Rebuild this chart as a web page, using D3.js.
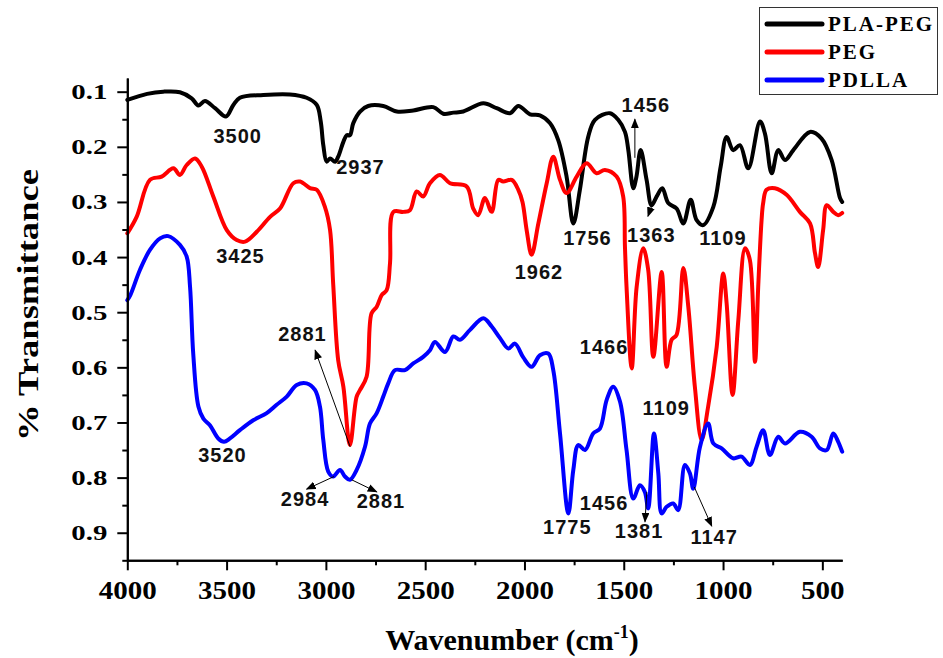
<!DOCTYPE html>
<html lang="en">
<head>
    <meta charset="UTF-8">
    <script src="https://d3js.org/d3.v7.min.js"></script>
    <style>
        body { margin: 0; background: #fff; }
        svg { display: block; }
    </style>
</head>
<body>
<div id="chart"></div>

<script>
    // spectra: [wavenumber, transmittance]
    var plaPeg = [
        [4000, 0.115], [3900, 0.104], [3819, 0.100], [3735, 0.101], [3676, 0.112], [3642, 0.125],
        [3609, 0.117], [3558, 0.130], [3503, 0.145], [3466, 0.124], [3433, 0.111], [3315, 0.106],
        [3181, 0.105], [3097, 0.111], [3046, 0.124], [3026, 0.154], [3013, 0.197], [2996, 0.227],
        [2979, 0.221], [2954, 0.227], [2938, 0.218], [2912, 0.191], [2895, 0.179], [2879, 0.179],
        [2862, 0.157], [2828, 0.136], [2787, 0.126], [2711, 0.126], [2643, 0.136], [2560, 0.134],
        [2459, 0.128], [2409, 0.140], [2358, 0.138], [2308, 0.136], [2207, 0.121], [2140, 0.130],
        [2073, 0.139], [2031, 0.126], [1972, 0.141], [1922, 0.143], [1872, 0.157], [1830, 0.188],
        [1788, 0.254], [1754, 0.339], [1721, 0.278], [1679, 0.182], [1645, 0.151], [1570, 0.139],
        [1528, 0.151], [1494, 0.173], [1477, 0.206], [1452, 0.275], [1436, 0.254], [1415, 0.206],
        [1385, 0.260], [1360, 0.306], [1334, 0.290], [1306, 0.275], [1276, 0.302], [1234, 0.312],
        [1200, 0.339], [1163, 0.296], [1133, 0.333], [1100, 0.342], [1049, 0.309], [1012, 0.236],
        [982, 0.182], [949, 0.206], [915, 0.197], [873, 0.239], [814, 0.154], [789, 0.176],
        [755, 0.248], [722, 0.206], [688, 0.224], [646, 0.206], [562, 0.173], [504, 0.185],
        [453, 0.224], [411, 0.293], [400, 0.300]
    ];

    var peg = [
        [4000, 0.357], [3953, 0.327], [3886, 0.260], [3827, 0.254], [3768, 0.239], [3735, 0.251],
        [3701, 0.233], [3659, 0.221], [3625, 0.236], [3567, 0.290], [3499, 0.351], [3449, 0.369],
        [3407, 0.372], [3348, 0.354], [3281, 0.327], [3231, 0.312], [3164, 0.266], [3130, 0.263],
        [3080, 0.275], [3046, 0.278], [3005, 0.309], [2979, 0.351], [2963, 0.450], [2938, 0.587],
        [2912, 0.635], [2879, 0.741], [2845, 0.653], [2828, 0.641], [2795, 0.617], [2770, 0.502],
        [2744, 0.490], [2719, 0.469], [2694, 0.460], [2677, 0.411], [2660, 0.318], [2610, 0.318],
        [2577, 0.315], [2543, 0.281], [2510, 0.290], [2476, 0.266], [2426, 0.251], [2375, 0.266],
        [2291, 0.272], [2258, 0.312], [2233, 0.324], [2199, 0.293], [2165, 0.318], [2132, 0.260],
        [2107, 0.263], [2064, 0.260], [2031, 0.278], [2010, 0.300], [1989, 0.351], [1964, 0.396],
        [1930, 0.339], [1888, 0.266], [1855, 0.218], [1821, 0.260], [1788, 0.284], [1737, 0.254],
        [1687, 0.230], [1637, 0.248], [1595, 0.242], [1536, 0.254], [1503, 0.290], [1494, 0.381],
        [1486, 0.454], [1460, 0.602], [1435, 0.454], [1402, 0.384], [1377, 0.423], [1351, 0.581],
        [1309, 0.427], [1284, 0.599], [1259, 0.550], [1234, 0.541], [1200, 0.420], [1175, 0.490],
        [1142, 0.635], [1108, 0.732], [1075, 0.671], [1032, 0.563], [999, 0.430], [982, 0.484],
        [952, 0.650], [923, 0.514], [889, 0.384], [865, 0.405], [839, 0.590], [823, 0.454],
        [806, 0.333], [798, 0.302], [781, 0.278], [739, 0.275], [680, 0.287], [613, 0.318],
        [562, 0.339], [537, 0.393], [521, 0.418], [496, 0.351], [478, 0.306], [445, 0.318],
        [420, 0.324], [400, 0.320]
    ];

    var pdlla = [
        [4000, 0.478], [3986, 0.470], [3936, 0.423], [3886, 0.387], [3835, 0.366], [3794, 0.362],
        [3735, 0.378], [3701, 0.399], [3684, 0.454], [3668, 0.575], [3642, 0.671], [3617, 0.693],
        [3584, 0.705], [3542, 0.729], [3513, 0.735], [3483, 0.729], [3433, 0.714], [3366, 0.696],
        [3298, 0.683], [3248, 0.668], [3197, 0.653], [3147, 0.632], [3097, 0.629], [3055, 0.641],
        [3030, 0.671], [3013, 0.732], [2988, 0.789], [2963, 0.798], [2929, 0.786], [2904, 0.798],
        [2879, 0.804], [2845, 0.786], [2803, 0.744], [2778, 0.702], [2744, 0.683], [2711, 0.653],
        [2686, 0.629], [2652, 0.605], [2602, 0.605], [2560, 0.593], [2510, 0.581], [2476, 0.569],
        [2451, 0.554], [2400, 0.572], [2358, 0.544], [2325, 0.550], [2274, 0.532], [2207, 0.511],
        [2165, 0.526], [2123, 0.547], [2081, 0.566], [2048, 0.557], [2006, 0.582], [1964, 0.599],
        [1922, 0.578], [1880, 0.575], [1855, 0.605], [1821, 0.720], [1779, 0.865], [1754, 0.786],
        [1729, 0.741], [1695, 0.750], [1654, 0.720], [1620, 0.711], [1586, 0.659], [1553, 0.635],
        [1519, 0.662], [1486, 0.750], [1452, 0.838], [1419, 0.814], [1394, 0.826], [1377, 0.856],
        [1348, 0.720], [1326, 0.792], [1309, 0.865], [1284, 0.853], [1251, 0.847], [1226, 0.859],
        [1192, 0.777], [1167, 0.792], [1150, 0.820], [1116, 0.744], [1075, 0.702], [1049, 0.738],
        [1007, 0.747], [949, 0.765], [907, 0.762], [865, 0.777], [831, 0.744], [798, 0.714],
        [764, 0.759], [722, 0.726], [688, 0.738], [613, 0.717], [554, 0.726], [512, 0.747],
        [478, 0.750], [445, 0.720], [420, 0.735], [400, 0.753]
    ];

    var seriesNames = ["PLA-PEG", "PEG", "PDLLA"];
    var seriesColors = ["#000000", "#ff0000", "#0000ff"];

    var xTicks = [4000, 3500, 3000, 2500, 2000, 1500, 1000, 500];
    var xMinorTicks = [3750, 3250, 2750, 2250, 1750, 1250, 750];
    var yTicks = [0.1, 0.2, 0.3, 0.4, 0.5, 0.6, 0.7, 0.8, 0.9];
    var yMinorTicks = [0.15, 0.25, 0.35, 0.45, 0.55, 0.65, 0.75, 0.85, 0.95];

    // peak labels, placed in data space: [text, wavenumber, transmittance]
    var peakLabels = [
        ["3500", 3444, 0.193], ["2937", 2826, 0.249], ["3425", 3430, 0.410],
        ["1456", 1389, 0.137], ["1756", 1683, 0.379], ["1363", 1361, 0.372],
        ["1109", 1001, 0.379], ["1962", 1927, 0.440], ["2881", 3118, 0.553],
        ["3520", 3521, 0.772], ["2984", 3105, 0.851], ["2881", 2723, 0.856],
        ["1466", 1599, 0.575], ["1109", 1286, 0.686], ["1456", 1599, 0.859],
        ["1775", 1784, 0.902], ["1381", 1423, 0.910], ["1147", 1045, 0.921]
    ];

    // arrows: [fromWn, fromT, toWn, toT]
    var peakArrows = [
        [1444, 0.220, 1444, 0.150],
        [1353, 0.300, 1378, 0.326],
        [2878, 0.744, 3054, 0.569],
        [2959, 0.798, 3097, 0.821],
        [2870, 0.804, 2744, 0.826],
        [1384, 0.826, 1393, 0.880],
        [1145, 0.817, 1057, 0.888]
    ];

    var width = 943, height = 658;

    var svg = d3.select("#chart").append("svg")
        .attr("width", width)
        .attr("height", height);

    svg.append("rect").attr("width", width).attr("height", height).attr("fill", "#fff");

    var x = d3.scaleLinear().domain([4000, 400]).range([127.3, 842.2]);
    var y = d3.scaleLinear().domain([0.075, 0.95]).range([77.9, 560.3]);

    svg.append("defs").append("marker")
        .attr("id", "arrow")
        .attr("markerUnits", "userSpaceOnUse")
        .attr("markerWidth", 10)
        .attr("markerHeight", 8)
        .attr("refX", 9)
        .attr("refY", 4)
        .attr("orient", "auto")
        .append("path")
        .attr("d", "M0,0L10,4L0,8z")
        .attr("fill", "#000");

    var line = d3.line()
        .x(function (d) { return x(d[0]); })
        .y(function (d) { return y(d[1]); })
        .curve(d3.curveCatmullRom.alpha(0.5));

    [plaPeg, peg, pdlla].forEach(function (s, i) {
        svg.append("path")
            .attr("d", line(s))
            .attr("fill", "none")
            .attr("stroke", seriesColors[i])
            .attr("stroke-width", 4)
            .attr("stroke-linejoin", "round")
            .attr("stroke-linecap", "round");
    });

    // axes
    var xAxis = svg.append("g")
        .attr("transform", "translate(0," + y(0.95) + ")")
        .call(d3.axisBottom(x).tickValues(xTicks).tickSize(10).tickPadding(10).tickSizeOuter(0)
            .tickFormat(d3.format("d")));
    svg.append("g")
        .attr("transform", "translate(0," + y(0.95) + ")")
        .call(d3.axisBottom(x).tickValues(xMinorTicks).tickSize(5).tickFormat("").tickSizeOuter(0));

    var yAxis = svg.append("g")
        .attr("transform", "translate(" + x(4000) + ",0)")
        .call(d3.axisLeft(y).tickValues(yTicks).tickSize(10).tickPadding(10).tickSizeOuter(0)
            .tickFormat(d3.format(".1f")));
    svg.append("g")
        .attr("transform", "translate(" + x(4000) + ",0)")
        .call(d3.axisLeft(y).tickValues(yMinorTicks).tickSize(5).tickFormat("").tickSizeOuter(0));

    svg.selectAll(".domain, .tick line").attr("stroke", "#000").attr("stroke-width", 2);

    xAxis.selectAll("text")
        .attr("fill", "#000")
        .style("font", "bold 26px 'Liberation Serif', 'Times New Roman', serif")
        .attr("textLength", function (d) { return String(d).length * 14.5; })
        .attr("lengthAdjust", "spacingAndGlyphs");

    yAxis.selectAll("text")
        .attr("fill", "#000")
        .style("font", "bold 22px 'Liberation Serif', 'Times New Roman', serif")
        .attr("textLength", 36)
        .attr("lengthAdjust", "spacingAndGlyphs");

    // axis titles
    svg.append("text")
        .attr("transform", "translate(38,305) rotate(-90)")
        .attr("text-anchor", "middle")
        .attr("textLength", 272)
        .attr("lengthAdjust", "spacingAndGlyphs")
        .style("font", "bold 30px 'Liberation Serif', 'Times New Roman', serif")
        .text("% Transmittance");

    var xt = svg.append("text")
        .attr("x", 512)
        .attr("y", 650)
        .attr("text-anchor", "middle")
        .style("font", "bold 30px 'Liberation Serif', 'Times New Roman', serif");
    xt.append("tspan").text("Wavenumber (cm");
    xt.append("tspan").attr("dy", -12).style("font-size", "18px").text("-1");
    xt.append("tspan").attr("dy", 12).text(")");

    // peak annotations
    svg.selectAll(".peak")
        .data(peakLabels)
        .enter()
        .append("text")
        .attr("class", "peak")
        .attr("x", function (d) { return x(d[1]); })
        .attr("y", function (d) { return y(d[2]); })
        .attr("text-anchor", "middle")
        .style("font", "bold 20px 'Liberation Sans', Arial, sans-serif")
        .style("letter-spacing", "1px")
        .attr("fill", "#111")
        .text(function (d) { return d[0]; });

    svg.selectAll(".arrow")
        .data(peakArrows)
        .enter()
        .append("line")
        .attr("class", "arrow")
        .attr("x1", function (d) { return x(d[0]); })
        .attr("y1", function (d) { return y(d[1]); })
        .attr("x2", function (d) { return x(d[2]); })
        .attr("y2", function (d) { return y(d[3]); })
        .attr("stroke", "#000")
        .attr("stroke-width", 1)
        .attr("marker-end", "url(#arrow)");

    // legend
    var legend = svg.append("g");
    legend.append("rect")
        .attr("x", 759.5).attr("y", 7.5)
        .attr("width", 178).attr("height", 87)
        .attr("fill", "#fff")
        .attr("stroke", "#333")
        .attr("stroke-width", 1);

    seriesNames.forEach(function (name, i) {
        var ly = 24 + i * 28;
        legend.append("line")
            .attr("x1", 767).attr("x2", 822)
            .attr("y1", ly).attr("y2", ly)
            .attr("stroke", seriesColors[i])
            .attr("stroke-width", 5)
            .attr("stroke-linecap", "round");
        legend.append("text")
            .attr("x", 828)
            .attr("y", ly + 7)
            .style("font", "bold 21px 'Liberation Serif', 'Times New Roman', serif")
            .style("letter-spacing", "2px")
            .text(name);
    });
</script>
</body>
</html>
